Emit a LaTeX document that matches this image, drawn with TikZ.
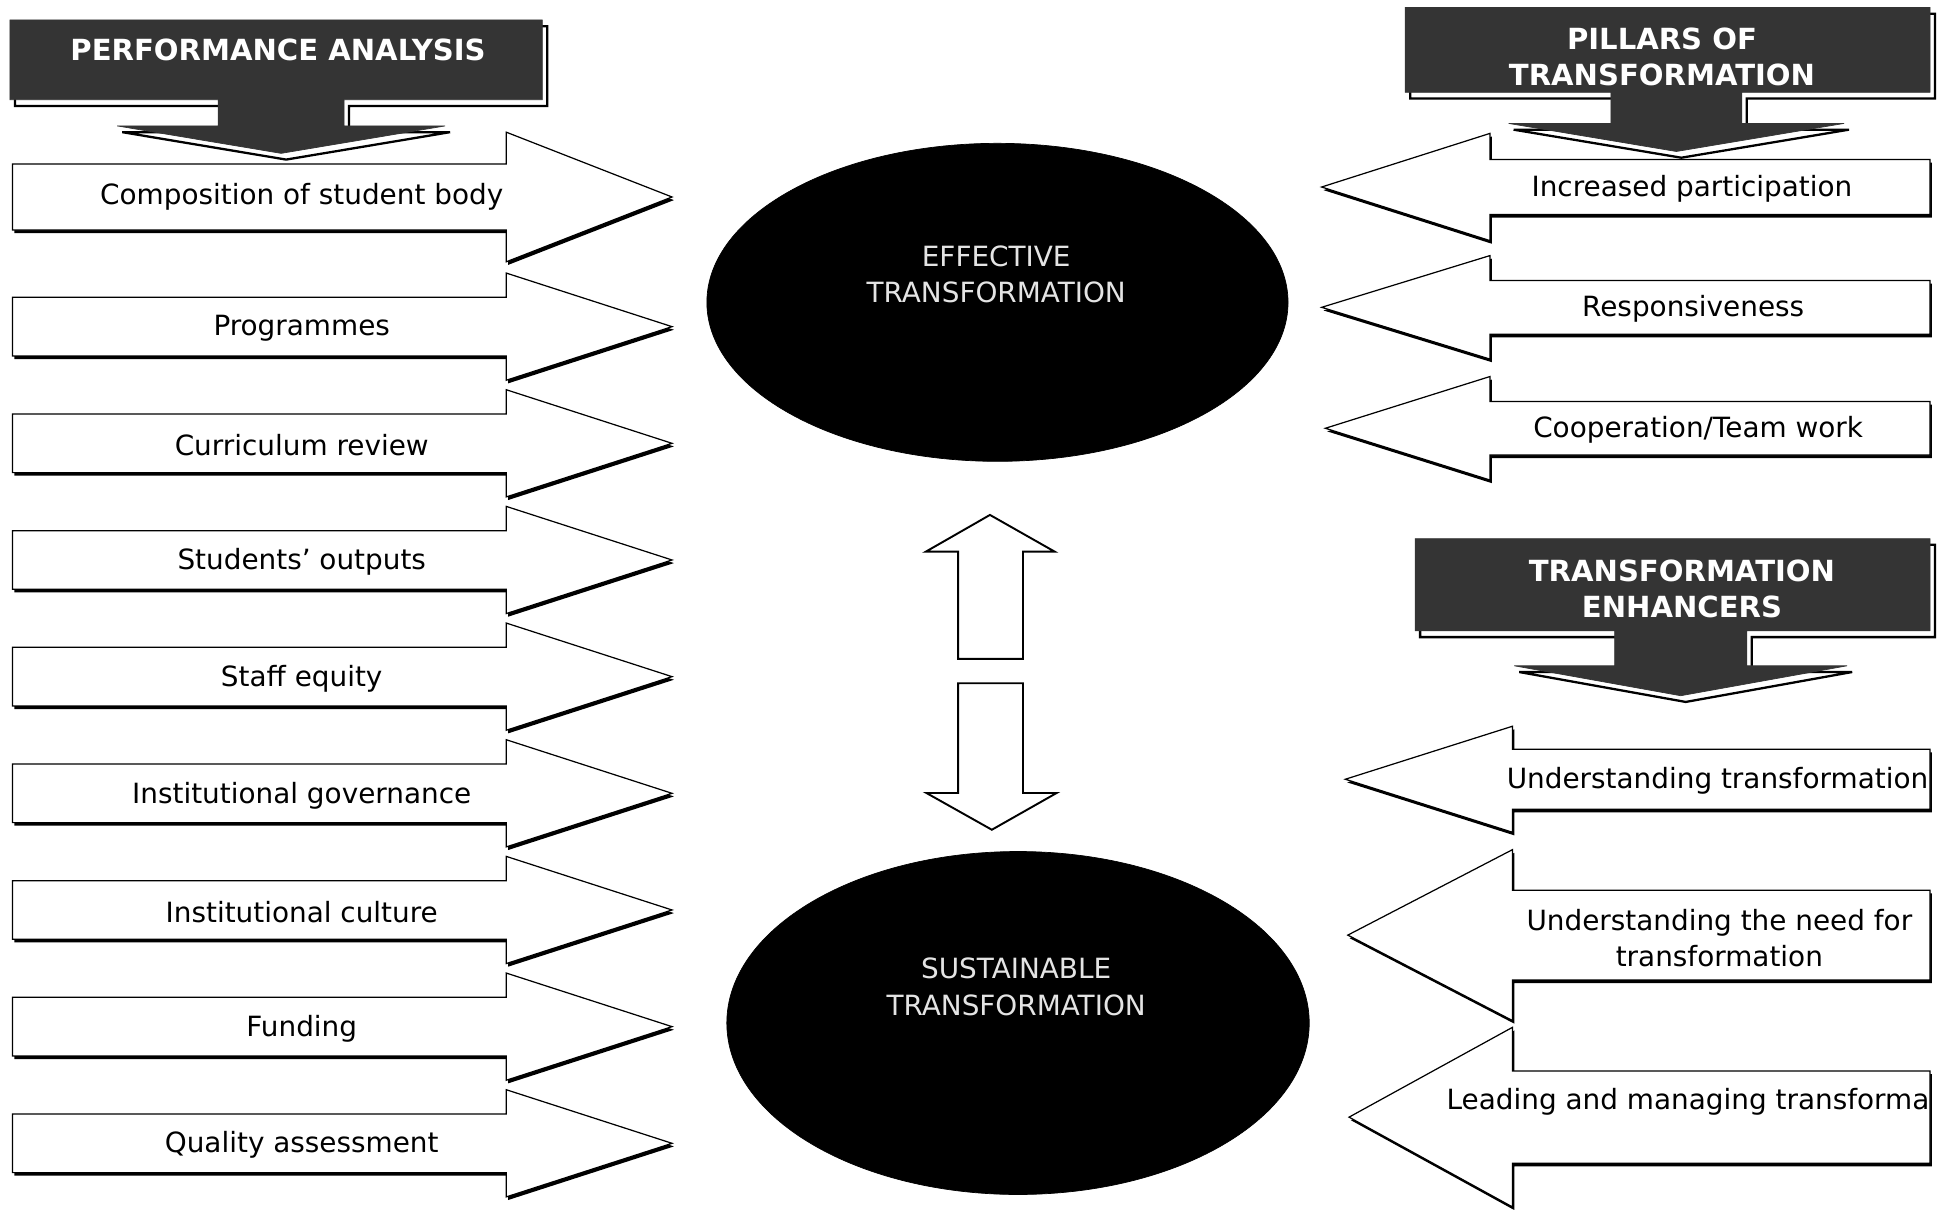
\documentclass[tikz,border=0pt]{standalone}
\usepackage{fontspec}
\setmainfont{DejaVu Sans}
\usepackage{tikz}
\usetikzlibrary{shapes.geometric}
\definecolor{headFill}{RGB}{52, 52, 52}
\definecolor{ovalText}{RGB}{228, 228, 228}
\tikzset{
    bar_shadow/.style={
        fill=black
    },
    bar_body/.style={
        fill=white,
        draw=black,
        line width=0.7pt,
        line join=miter
    },
    bar_label/.style={
        font=\fontsize{15.9}{20.5}\selectfont,
        text=black,
        inner sep=0pt,
        yshift=-0.04cm,
        align=center
    },
    head_shadow/.style={
        fill=white,
        draw=black,
        line width=1.3pt
    },
    head_body/.style={
        fill=headFill,
        draw=headFill,
        line width=0.4pt
    },
    head_label/.style={
        font=\fontsize{16.6}{20.5}\selectfont\bfseries,
        text=white,
        inner sep=0pt,
        align=center
    },
    goal_oval/.style={
        ellipse,
        fill=black,
        draw=black,
        inner sep=0pt
    },
    goal_label/.style={
        font=\fontsize{15.9}{21}\selectfont,
        text=ovalText,
        inner sep=0pt,
        align=center
    },
    link_arrow/.style={
        fill=white,
        draw=black,
        line width=1.1pt,
        line join=miter
    },
    % block arrow: x0, head base x, tip x, centre y, half body, half head
    pics/bar/.style n args={6}{code={
        \fill[bar_shadow, shift={(1.5,2.5)}]
            (#1,#4-#5) -- (#2,#4-#5) -- (#2,#4-#6) -- (#3,#4)
            -- (#2,#4+#6) -- (#2,#4+#5) -- (#1,#4+#5) -- cycle;
        \draw[bar_body]
            (#1,#4-#5) -- (#2,#4-#5) -- (#2,#4-#6) -- (#3,#4)
            -- (#2,#4+#6) -- (#2,#4+#5) -- (#1,#4+#5) -- cycle;
    }},
    % heading box with a down arrow: left, right, top, bottom, stem left, stem right, head y, half head, tip y
    pics/banner/.style n args={9}{code={
        \draw[head_shadow, shift={(4,5)}]
            (#1,#3) -- (#2,#3) -- (#2,#4) -- (#6,#4) -- (#6,#7)
            -- ({(#5+#6)/2+#8},#7) -- ({(#5+#6)/2},#9) -- ({(#5+#6)/2-#8},#7)
            -- (#5,#7) -- (#5,#4) -- (#1,#4) -- cycle;
        \draw[head_body]
            (#1,#3) -- (#2,#3) -- (#2,#4) -- (#6,#4) -- (#6,#7)
            -- ({(#5+#6)/2+#8},#7) -- ({(#5+#6)/2},#9) -- ({(#5+#6)/2-#8},#7)
            -- (#5,#7) -- (#5,#4) -- (#1,#4) -- cycle;
    }}
}

\begin{document}
\begin{tikzpicture}[x=0.025cm, y=-0.025cm]
    \useasboundingbox (0,0) rectangle (1568,970);

    % headings
    \pic at (0,0) {banner={8}{435}{16}{80}{175}{276}{101}{131.5}{123}};
    \node[head_label] (pa_head) at (223,40) {PERFORMANCE ANALYSIS};
    \pic at (0,0) {banner={1127}{1548}{6}{74}{1292}{1397}{99}{134.5}{121.5}};
    \node[head_label] (pt_head) at (1333,46) {PILLARS OF\\TRANSFORMATION};
    \pic at (0,0) {banner={1135}{1548}{432}{506}{1295}{1401}{534}{133.5}{558}};
    \node[head_label] (te_head) at (1349,472) {TRANSFORMATION\\ENHANCERS};

    % performance analysis
    \pic at (0,0) {bar={10}{406}{539}{158}{26.5}{52}};
    \node[bar_label] (pa_comp) at (242,156) {Composition of student body};
    \foreach \k/\nm/\txt in {0/prog/Programmes, 1/curr/Curriculum review,
        2/outp/Students’ outputs, 3/staff/Staff equity,
        4/gov/Institutional governance, 5/cult/Institutional culture,
        6/fund/Funding, 7/qual/Quality assessment}{
        \pgfmathsetmacro{\yc}{262+93.57*\k}
        \pic at (0,0) {bar={10}{406}{539}{\yc}{23.5}{43}};
        \node[bar_label] (pa_\nm) at (242,\yc) {\txt};
    }

    % pillars of transformation
    \pic at (0,0) {bar={1548}{1195}{1060}{150}{22}{43}};
    \node[bar_label] (pt_part) at (1357,150) {Increased participation};
    \pic at (0,0) {bar={1548}{1195}{1060}{246.5}{21.5}{41.5}};
    \node[bar_label] (pt_resp) at (1358,246) {Responsiveness};
    \pic at (0,0) {bar={1548}{1195}{1063}{343.5}{21.5}{41.5}};
    \node[bar_label] (pt_coop) at (1362,343) {Cooperation/Team work};

    % transformation enhancers
    \pic at (0,0) {bar={1548}{1213}{1079}{625}{24}{42.5}};
    \node[bar_label] (te_under) at (1377.5,625) {Understanding transformation};
    \pic at (0,0) {bar={1548}{1213}{1081}{750}{36}{68.5}};
    \node[bar_label] (te_need) at (1379,751) {Understanding the need for\\transformation};
    \pic at (0,0) {bar={1548}{1213}{1082}{896}{37}{72}};
    \begin{scope}
        \clip (1100,840) rectangle (1548,930);
        \node[bar_label, anchor=west] (te_lead) at (1160,882) {Leading and managing transforma};
    \end{scope}

    % centre
    \node[goal_oval, minimum width=11.65cm, minimum height=6.375cm] (eff) at (800,242.5) {};
    \node[goal_label] (eff_text) at (799,220) {EFFECTIVE\\TRANSFORMATION};
    \node[goal_oval, minimum width=11.675cm, minimum height=6.875cm] (sus) at (816.5,820.5) {};
    \node[goal_label] (sus_text) at (815,791.5) {SUSTAINABLE\\TRANSFORMATION};

    \draw[link_arrow] (768.5,528.5) -- (768.5,442.5) -- (742.5,442.5) -- (794,413)
        -- (846,442.5) -- (820.5,442.5) -- (820.5,528.5) -- cycle;
    \draw[link_arrow] (768.5,548) -- (820.5,548) -- (820.5,636) -- (847.5,636)
        -- (795.5,665.5) -- (743,636) -- (768.5,636) -- cycle;
\end{tikzpicture}
\end{document}
